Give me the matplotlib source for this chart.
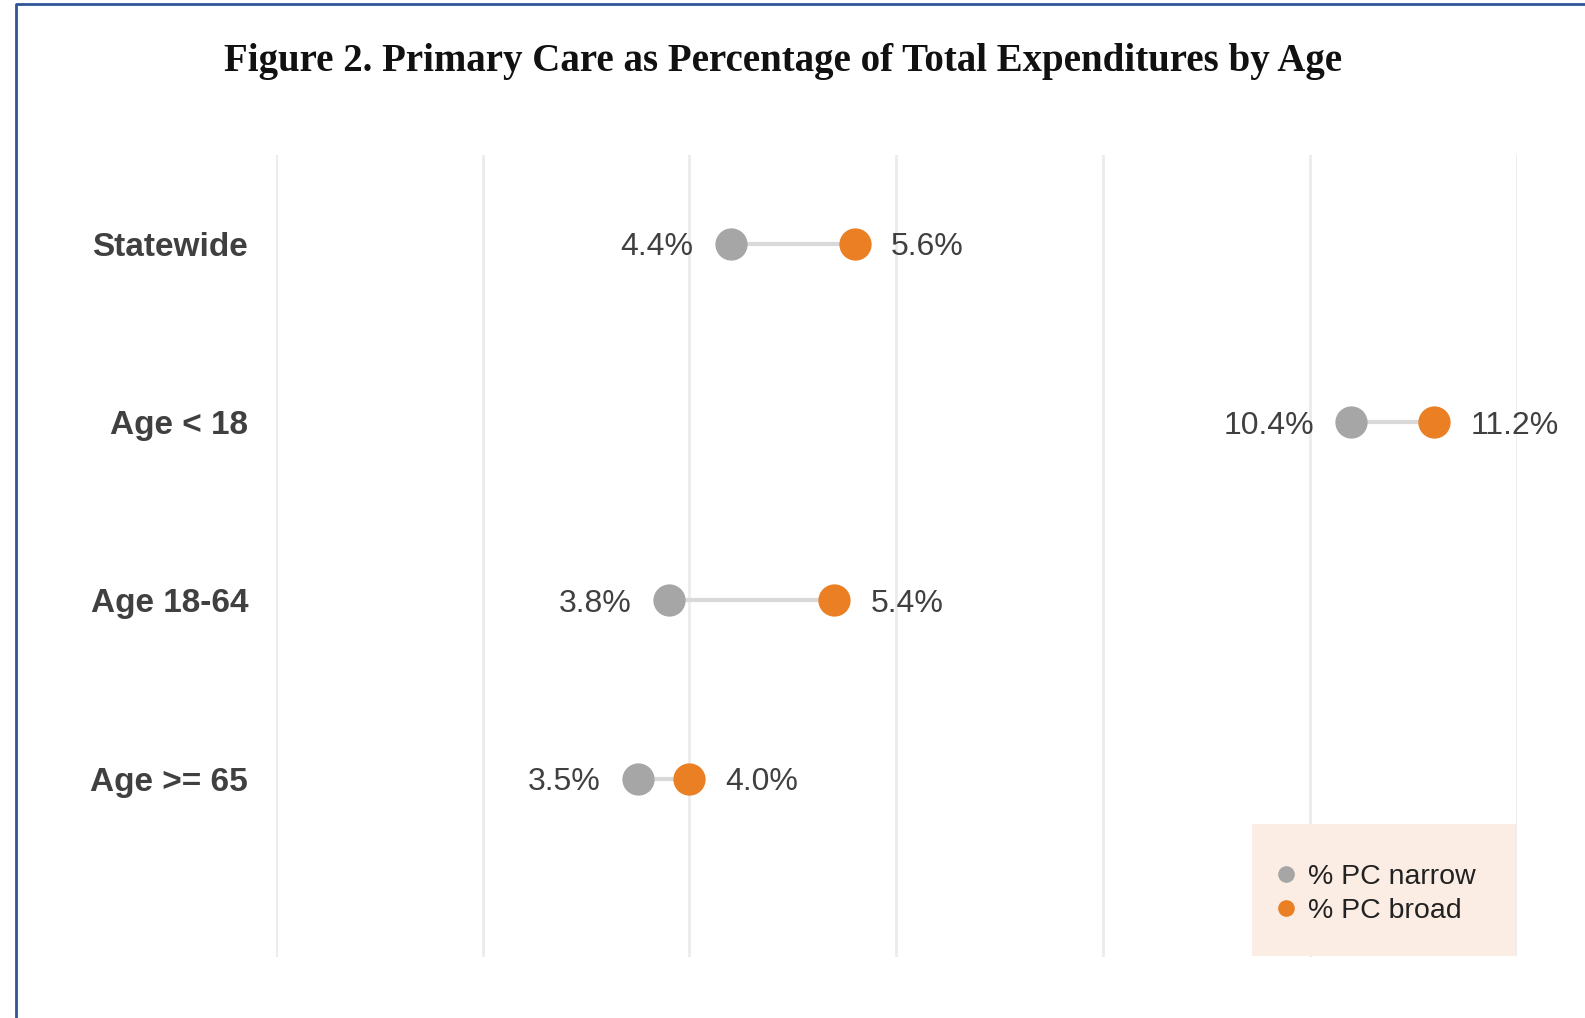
import numpy as np
import matplotlib
matplotlib.use("Agg")
import matplotlib.pyplot as plt
from matplotlib.lines import Line2D
from matplotlib.patches import Rectangle

categories = ["Statewide", "Age < 18", "Age 18-64", "Age >= 65"]
pc_narrow = [4.4, 10.4, 3.8, 3.5]
pc_broad = [5.6, 11.2, 5.4, 4.0]
series_names = ["% PC narrow", "% PC broad"]

GRAY = "#A6A6A6"
ORANGE = "#EA7F24"
LINK = "#D9D9D9"
GRID = "#EBEBEB"
TEXT = "#404040"

plt.rcParams['font.family'] = ['Liberation Sans', 'DejaVu Sans']

fig = plt.figure(figsize=(15.85, 10.18), dpi=100)
ax = fig.add_axes([0.174, 0.060, 0.783, 0.788])

y = np.arange(len(categories))
ax.set_xlim(0, 12)
ax.set_ylim(len(categories), -0.5)
ax.set_xticks(np.arange(0, 13, 2))
ax.xaxis.grid(True, color=GRID, linewidth=2)
ax.set_axisbelow(True)
ax.tick_params(axis='x', length=0, labelbottom=False)
ax.tick_params(axis='y', length=0, pad=20)
ax.set_yticks(y)
ax.set_yticklabels(categories, fontsize=24, fontweight='bold', color=TEXT)
for s in ax.spines.values():
    s.set_visible(False)

for yi, lo, hi in zip(y, pc_narrow, pc_broad):
    ax.plot([lo, hi], [yi, yi], color=LINK, linewidth=3, zorder=2)
    ax.annotate(f"{lo:.1f}%", (lo, yi), xytext=(-27, 0), textcoords='offset points',
                ha='right', va='center_baseline', fontsize=23, color=TEXT)
    ax.annotate(f"{hi:.1f}%", (hi, yi), xytext=(26, 0), textcoords='offset points',
                ha='left', va='center_baseline', fontsize=23, color=TEXT)
ax.scatter(pc_narrow, y, s=540, color=GRAY, zorder=3, linewidths=0)
ax.scatter(pc_broad, y, s=540, color=ORANGE, zorder=3, linewidths=0)

# legend panel drawn over the grid
fig.add_artist(Rectangle((1252 / 1585, 1 - 956 / 1018), 264 / 1585, 132 / 1018,
                         transform=fig.transFigure, facecolor="#FBEDE4",
                         edgecolor='none', zorder=5))
handles = [Line2D([], [], marker='o', linestyle='none', markersize=12,
                  markerfacecolor=c, markeredgecolor='none') for c in (GRAY, ORANGE)]
leg = fig.legend(handles, series_names, loc='center left',
                 bbox_to_anchor=(1275 / 1585, 1 - 894 / 1018), frameon=False,
                 fontsize=20.5, handletextpad=0.35, handlelength=0.8,
                 labelspacing=0.3, borderpad=0, borderaxespad=0)
leg.set_zorder(6)
for t in leg.get_texts():
    t.set_color("#222222")

fig.text(783 / 1585, 1 - 62 / 1018,
         "Figure 2. Primary Care as Percentage of Total Expenditures by Age",
         ha='center', va='center', fontsize=28, fontweight='bold',
         family=['Liberation Serif', 'DejaVu Serif'], color="#111111")

# page frame
fx, fy = 16 / 1585, 1 - 4 / 1018
fig.add_artist(Line2D([fx, fx, 1.0], [0.0, fy, fy], transform=fig.transFigure,
                      color="#2F5597", linewidth=2))

fig.savefig("out.png", dpi=100)
